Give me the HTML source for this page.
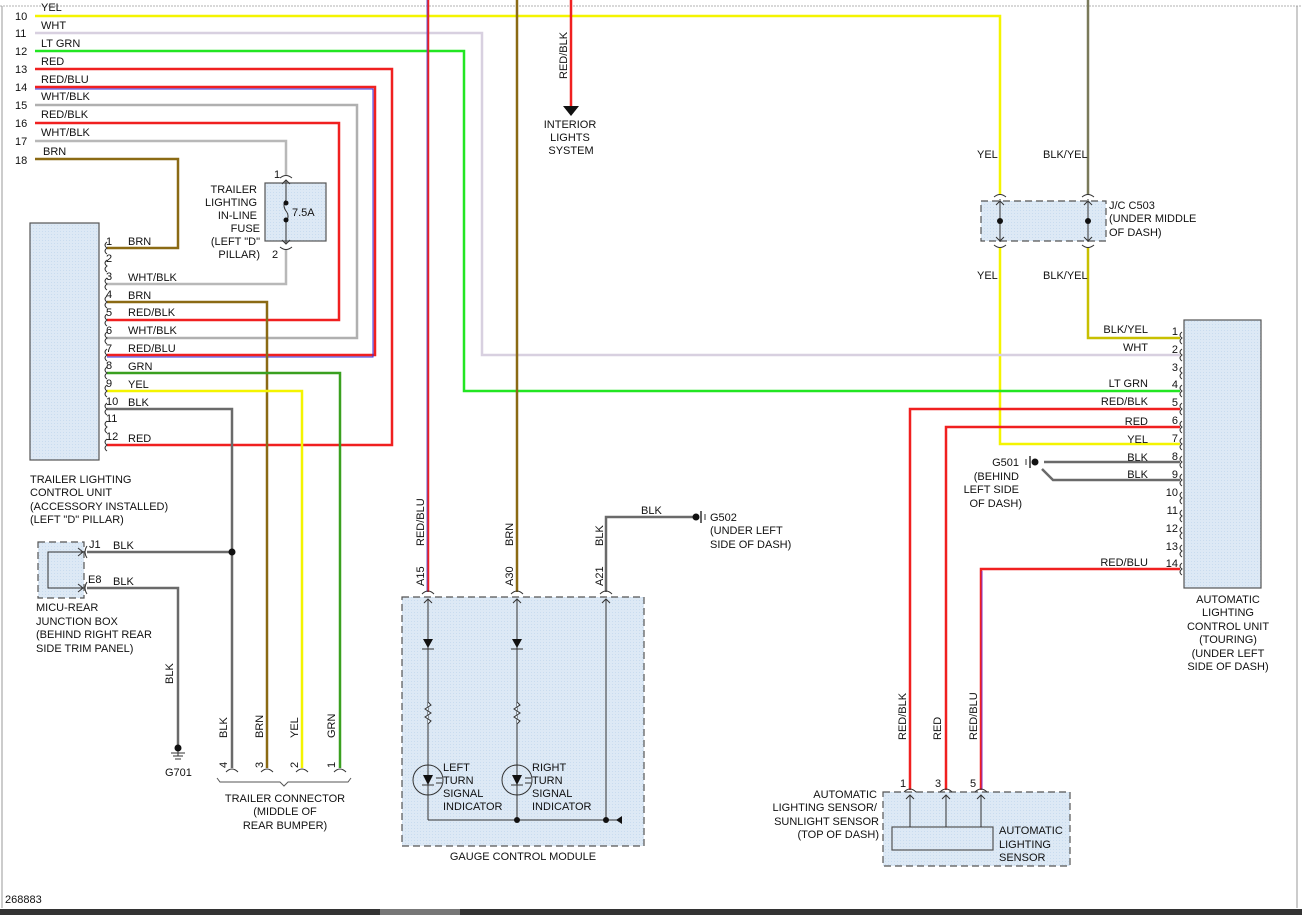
<!DOCTYPE html>
<html><head><meta charset="utf-8"><style>
html,body{margin:0;padding:0;background:#fff;}
svg{display:block;}
text{font-family:"Liberation Sans",sans-serif;font-size:11px;fill:#111;}
</style></head><body>
<svg width="1302" height="915" viewBox="0 0 1302 915" xmlns="http://www.w3.org/2000/svg">
<defs>
<pattern id="dot" width="3" height="3" patternUnits="userSpaceOnUse"><rect width="3" height="3" fill="#dde9f5"/><rect width="1" height="1" fill="#c9dcef"/></pattern>
</defs>
<line x1="0" y1="6" x2="1302" y2="6" stroke="#ccc" stroke-width="1.5" stroke-dasharray="2 1"/>
<line x1="2" y1="6" x2="2" y2="908" stroke="#999" stroke-width="1"/>
<line x1="1297" y1="6" x2="1297" y2="908" stroke="#999" stroke-width="1"/>
<rect x="0" y="909" width="1302" height="6" fill="#333"/>
<rect x="380" y="909" width="80" height="6" fill="#777"/>
<text x="5" y="903">268883</text>

<rect x="30" y="223" width="69" height="237" fill="url(#dot)" stroke="#555" stroke-width="1.2"/>
<rect x="265" y="183" width="61" height="58" fill="url(#dot)" stroke="#555" stroke-width="1.2"/>
<rect x="38" y="542" width="46" height="56" fill="url(#dot)" stroke="#555" stroke-width="1.2" stroke-dasharray="7 4"/>
<rect x="402" y="597" width="242" height="249" fill="url(#dot)" stroke="#555" stroke-width="1.2" stroke-dasharray="7 4"/>
<rect x="981" y="201" width="125" height="40" fill="url(#dot)" stroke="#555" stroke-width="1.2" stroke-dasharray="7 4"/>
<rect x="1184" y="320" width="77" height="268" fill="url(#dot)" stroke="#555" stroke-width="1.2"/>
<rect x="883" y="792" width="187" height="74" fill="url(#dot)" stroke="#555" stroke-width="1.2" stroke-dasharray="7 4"/>
<rect x="892" y="827" width="101" height="23" fill="url(#dot)" stroke="#555" stroke-width="1.2"/>

<g fill="none" stroke-width="2.5" stroke-linejoin="miter">
<polyline points="35,16 1000,16 1000,195" stroke="#f4f400"/>
<polyline points="1000,247 1000,444 1180,444" stroke="#f4f400"/>
<polyline points="35,33 482,33 482,355 1180,355" stroke="#d8d0e0"/>
<polyline points="35,51 464,51 464,391 1180,391" stroke="#22e622"/>
<polyline points="35,69 392,69 392,445 107,445" stroke="#f02020"/>
<polyline points="35,87 375,87 375,355 107,355" stroke="#f02020"/>
<polyline points="35,89 373,89 373,357 107,357" stroke="#3030e0" stroke-width="1"/>
<polyline points="35,105 357,105 357,338 107,338" stroke="#b0b0b0"/>
<polyline points="35,123 339,123 339,320 107,320" stroke="#f02020"/>
<polyline points="35,141 286,141 286,175" stroke="#b8b8b8"/>
<polyline points="286,249 286,284 107,284" stroke="#b8b8b8"/>
<polyline points="35,159 178,159 178,248 107,248" stroke="#8b6a14"/>
<polyline points="107,302 267,302 267,768" stroke="#8b6a14"/>
<polyline points="107,373 340,373 340,768" stroke="#3aa020"/>
<polyline points="107,391 302,391 302,768" stroke="#f4f400"/>
<polyline points="107,409 232,409 232,768" stroke="#6a6a6a"/>
<polyline points="87,552 232,552" stroke="#6a6a6a"/>
<polyline points="87,588 178,588 178,745" stroke="#6a6a6a"/>
<line x1="428" y1="0" x2="428" y2="592" stroke="#f02020"/>
<line x1="427" y1="0" x2="427" y2="592" stroke="#5050e0" stroke-width="0.8"/>
<line x1="517" y1="0" x2="517" y2="592" stroke="#8b6a14"/>
<line x1="571" y1="0" x2="571" y2="106" stroke="#f02020"/>
<polyline points="606,592 606,517 693,517" stroke="#6a6a6a"/>
<line x1="1088" y1="0" x2="1088" y2="195" stroke="#7a7a5a"/>
<polyline points="1088,247 1088,338 1180,338" stroke="#c8c000"/>
<polyline points="1180,409 910,409 910,790" stroke="#f02020"/>
<polyline points="1180,427 946,427 946,790" stroke="#f02020"/>
<polyline points="1180,462 1044,462" stroke="#6a6a6a"/>
<polyline points="1180,480 1053,480 1042,469" stroke="#6a6a6a"/>
<polyline points="1180,569 981,569 981,790" stroke="#f02020"/>
<line x1="982" y1="571" x2="982" y2="790" stroke="#8a30c0" stroke-width="1"/>
</g>

<g fill="none" stroke="#333" stroke-width="1">
<path d="M107,242 q-4,3 0,6 q-4,3 0,6 M107,260 q-4,3 0,6 q-4,3 0,6 M107,278 q-4,3 0,6 q-4,3 0,6 M107,296 q-4,3 0,6 q-4,3 0,6 M107,314 q-4,3 0,6 q-4,3 0,6 M107,332 q-4,3 0,6 q-4,3 0,6 M107,349 q-4,3 0,6 q-4,3 0,6 M107,367 q-4,3 0,6 q-4,3 0,6 M107,385 q-4,3 0,6 q-4,3 0,6 M107,403 q-4,3 0,6 q-4,3 0,6 M107,421 q-4,3 0,6 q-4,3 0,6 M107,439 q-4,3 0,6 q-4,3 0,6"/>
<path d="M1182,332 q-4,3 0,6 q-4,3 0,6 M1182,349 q-4,3 0,6 q-4,3 0,6 M1182,367 q-4,3 0,6 q-4,3 0,6 M1182,385 q-4,3 0,6 q-4,3 0,6 M1182,403 q-4,3 0,6 q-4,3 0,6 M1182,421 q-4,3 0,6 q-4,3 0,6 M1182,438 q-4,3 0,6 q-4,3 0,6 M1182,456 q-4,3 0,6 q-4,3 0,6 M1182,474 q-4,3 0,6 q-4,3 0,6 M1182,492 q-4,3 0,6 q-4,3 0,6 M1182,510 q-4,3 0,6 q-4,3 0,6 M1182,527 q-4,3 0,6 q-4,3 0,6 M1182,545 q-4,3 0,6 q-4,3 0,6 M1182,563 q-4,3 0,6 q-4,3 0,6"/>
<path d="M280,178 q6,-5 12,0 M280,247 q6,5 12,0"/>
<line x1="286" y1="180" x2="286" y2="200"/><line x1="286" y1="222" x2="286" y2="244"/>
<path d="M282,184 l4,-4 l4,4 M282,240 l4,4 l4,-4"/>
<path d="M286,200 q-4,5 0,11 q4,5 0,11"/>
<polyline points="84,552 48,552 48,588 84,588"/>
<path d="M78,548 l5,4 l-5,4 M78,584 l5,4 l-5,4 M87,546 q-4,6 0,12 M87,582 q-4,6 0,12"/>
<path d="M226,772 q6,-6 12,0 M261,772 q6,-6 12,0 M296,772 q6,-6 12,0 M334,772 q6,-6 12,0"/>
<path d="M217,778 l3,4 h60 l4,4 l4,-4 h60 l3,-4" stroke="#555"/>
<line x1="178" y1="746" x2="178" y2="756" stroke="#333"/>
<line x1="171" y1="753" x2="185" y2="753"/><line x1="173" y1="756" x2="183" y2="756"/><line x1="175" y1="759" x2="181" y2="759"/>
<path d="M422,594 q6,-6 12,0 M511,594 q6,-6 12,0 M600,594 q6,-6 12,0"/>
<path d="M424,603 l4,-4 l4,4 M513,603 l4,-4 l4,4 M602,603 l4,-4 l4,4"/>
<line x1="428" y1="599" x2="428" y2="820"/><line x1="517" y1="599" x2="517" y2="820"/><line x1="606" y1="599" x2="606" y2="820"/>
<line x1="428" y1="820" x2="620" y2="820"/>
<line x1="422" y1="649" x2="434" y2="649"/><line x1="511" y1="649" x2="523" y2="649"/>
<path d="M428,702 l3,3 l-6,4 l6,4 l-6,4 l6,4 l-3,3" fill="#e6f0f8"/>
<path d="M517,702 l3,3 l-6,4 l6,4 l-6,4 l6,4 l-3,3" fill="#e6f0f8"/>
<circle cx="428" cy="780" r="15"/><circle cx="517" cy="780" r="15"/>
<line x1="422" y1="785" x2="434" y2="785"/><line x1="511" y1="785" x2="523" y2="785"/>
<path d="M436,778 h6 M436,783 h6 M525,778 h6 M525,783 h6"/>
<path d="M994,197 q6,-5 12,0 M1082,197 q6,-5 12,0 M994,245 q6,5 12,0 M1082,245 q6,5 12,0"/>
<line x1="1000" y1="199" x2="1000" y2="242"/><line x1="1088" y1="199" x2="1088" y2="242"/>
<path d="M996,205 l4,-4 l4,4 M996,237 l4,4 l4,-4 M1084,205 l4,-4 l4,4 M1084,237 l4,4 l4,-4"/>
<path d="M904,792 q6,-6 12,0 M940,792 q6,-6 12,0 M975,792 q6,-6 12,0"/>
<line x1="910" y1="795" x2="910" y2="827"/><line x1="946" y1="795" x2="946" y2="827"/><line x1="981" y1="795" x2="981" y2="827"/>
<path d="M906,799 l4,-4 l4,4 M942,799 l4,-4 l4,4 M977,799 l4,-4 l4,4"/>
<line x1="701" y1="511" x2="701" y2="523" stroke-width="1.5"/><line x1="705" y1="514" x2="705" y2="520"/>
<line x1="1030" y1="456" x2="1030" y2="468" stroke-width="1.5"/><line x1="1026" y1="459" x2="1026" y2="465"/>
</g>
<g fill="#111">
<circle cx="232" cy="552" r="3.5"/><circle cx="178" cy="748" r="3.5"/>
<circle cx="286" cy="203" r="2.5"/><circle cx="286" cy="220" r="2.5"/>
<circle cx="517" cy="820" r="3"/><circle cx="606" cy="820" r="3"/>
<circle cx="1000" cy="221" r="3"/><circle cx="1088" cy="221" r="3"/>
<circle cx="696" cy="517" r="3.5"/><circle cx="1035" cy="462" r="3.5"/>
<polygon points="563,106 579,106 571,116"/>
<polygon points="622,816 622,824 616,820"/>
<polygon points="423,639 433,639 428,648"/><polygon points="512,639 522,639 517,648"/>
<polygon points="423,775 433,775 428,785"/><polygon points="512,775 522,775 517,785"/>
</g>

<g>
<text x="15" y="20">10</text><text x="41" y="11">YEL</text>
<text x="15" y="37">11</text><text x="41" y="29">WHT</text>
<text x="15" y="55">12</text><text x="41" y="47">LT GRN</text>
<text x="15" y="73">13</text><text x="41" y="65">RED</text>
<text x="15" y="91">14</text><text x="41" y="83">RED/BLU</text>
<text x="15" y="109">15</text><text x="41" y="100">WHT/BLK</text>
<text x="15" y="127">16</text><text x="41" y="118">RED/BLK</text>
<text x="15" y="145">17</text><text x="41" y="136">WHT/BLK</text>
<text x="15" y="164">18</text><text x="43" y="155">BRN</text>
</g>
<g>
<text x="106" y="245">1</text><text x="128" y="245">BRN</text>
<text x="106" y="262">2</text>
<text x="106" y="280">3</text><text x="128" y="281">WHT/BLK</text>
<text x="106" y="298">4</text><text x="128" y="299">BRN</text>
<text x="106" y="316">5</text><text x="128" y="316">RED/BLK</text>
<text x="106" y="334">6</text><text x="128" y="334">WHT/BLK</text>
<text x="106" y="352">7</text><text x="128" y="352">RED/BLU</text>
<text x="106" y="369">8</text><text x="128" y="370">GRN</text>
<text x="106" y="387">9</text><text x="128" y="388">YEL</text>
<text x="106" y="405">10</text><text x="128" y="406">BLK</text>
<text x="106" y="422">11</text>
<text x="106" y="440">12</text><text x="128" y="442">RED</text>
</g>
<g text-anchor="end">
<text x="257" y="193">TRAILER</text><text x="257" y="206">LIGHTING</text><text x="257" y="219">IN-LINE</text><text x="260" y="232">FUSE</text><text x="260" y="245">(LEFT "D"</text><text x="260" y="258">PILLAR)</text>
</g>
<text x="274" y="178">1</text><text x="272" y="258">2</text><text x="292" y="216">7.5A</text>
<text x="30" y="483">TRAILER LIGHTING</text><text x="30" y="496">CONTROL UNIT</text><text x="30" y="510">(ACCESSORY INSTALLED)</text><text x="30" y="523">(LEFT "D" PILLAR)</text>
<text x="89" y="548">J1</text><text x="113" y="549">BLK</text>
<text x="88" y="583">E8</text><text x="113" y="585">BLK</text>
<text x="36" y="611">MICU-REAR</text><text x="36" y="625">JUNCTION BOX</text><text x="36" y="638">(BEHIND RIGHT REAR</text><text x="36" y="652">SIDE TRIM PANEL)</text>
<text x="165" y="776">G701</text>
<g transform="rotate(-90)">
<text x="-684" y="173">BLK</text>
<text x="-738" y="227">BLK</text><text x="-738" y="263">BRN</text><text x="-738" y="298">YEL</text><text x="-738" y="335">GRN</text>
<text x="-768" y="227">4</text><text x="-768" y="263">3</text><text x="-768" y="298">2</text><text x="-768" y="335">1</text>
<text x="-546" y="424">RED/BLU</text><text x="-546" y="513">BRN</text><text x="-546" y="603">BLK</text>
<text x="-586" y="424">A15</text><text x="-586" y="513">A30</text><text x="-586" y="603">A21</text>
<text x="-79" y="567">RED/BLK</text>
<text x="-740" y="906">RED/BLK</text><text x="-740" y="941">RED</text><text x="-740" y="977">RED/BLU</text>
</g>
<g text-anchor="middle">
<text x="285" y="802">TRAILER CONNECTOR</text><text x="285" y="815">(MIDDLE OF</text><text x="285" y="829">REAR BUMPER)</text>
<text x="570" y="128">INTERIOR</text><text x="570" y="141">LIGHTS</text><text x="571" y="154">SYSTEM</text>
<text x="523" y="860">GAUGE CONTROL MODULE</text>
<text x="1228" y="603">AUTOMATIC</text><text x="1228" y="616">LIGHTING</text><text x="1228" y="630">CONTROL UNIT</text><text x="1228" y="643">(TOURING)</text><text x="1228" y="657">(UNDER LEFT</text><text x="1228" y="670">SIDE OF DASH)</text>
</g>
<text x="443" y="771">LEFT</text><text x="443" y="784">TURN</text><text x="443" y="797">SIGNAL</text><text x="443" y="810">INDICATOR</text>
<text x="532" y="771">RIGHT</text><text x="532" y="784">TURN</text><text x="532" y="797">SIGNAL</text><text x="532" y="810">INDICATOR</text>
<text x="641" y="514">BLK</text>
<text x="710" y="521">G502</text><text x="710" y="534">(UNDER LEFT</text><text x="710" y="548">SIDE OF DASH)</text>
<text x="977" y="158">YEL</text><text x="1043" y="158">BLK/YEL</text>
<text x="977" y="279">YEL</text><text x="1043" y="279">BLK/YEL</text>
<text x="1109" y="209">J/C C503</text><text x="1109" y="222">(UNDER MIDDLE</text><text x="1109" y="236">OF DASH)</text>
<g text-anchor="end">
<text x="1148" y="333">BLK/YEL</text><text x="1148" y="351">WHT</text><text x="1148" y="387">LT GRN</text><text x="1148" y="405">RED/BLK</text><text x="1148" y="425">RED</text><text x="1148" y="443">YEL</text><text x="1148" y="461">BLK</text><text x="1148" y="478">BLK</text><text x="1148" y="566">RED/BLU</text>
<text x="1178" y="335">1</text><text x="1178" y="353">2</text><text x="1178" y="371">3</text><text x="1178" y="388">4</text><text x="1178" y="406">5</text><text x="1178" y="424">6</text><text x="1178" y="442">7</text><text x="1178" y="460">8</text><text x="1178" y="478">9</text><text x="1178" y="496">10</text><text x="1178" y="514">11</text><text x="1178" y="532">12</text><text x="1178" y="550">13</text><text x="1178" y="567">14</text>
<text x="1019" y="466">G501</text><text x="1019" y="480">(BEHIND</text><text x="1019" y="493">LEFT SIDE</text><text x="1022" y="507">OF DASH)</text>
<text x="877" y="798">AUTOMATIC</text><text x="877" y="811">LIGHTING SENSOR/</text><text x="879" y="825">SUNLIGHT SENSOR</text><text x="879" y="838">(TOP OF DASH)</text>
</g>
<text x="900" y="787">1</text><text x="935" y="787">3</text><text x="970" y="787">5</text>
<text x="999" y="834">AUTOMATIC</text><text x="999" y="848">LIGHTING</text><text x="999" y="861">SENSOR</text>
</svg>
</body></html>
